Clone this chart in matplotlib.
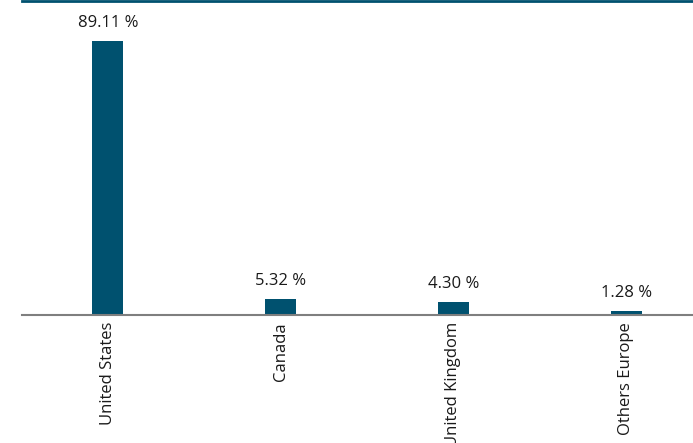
import matplotlib.pyplot as plt
import numpy as np

## Données

pays = ['United States', 'Canada', 'United Kingdom', 'Others Europe']
parts = [89.11, 5.32, 4.30, 1.28]
etiquettes = ['89.11 %', '5.32 %', '4.30 %', '1.28 %']

bleu = '#00516f'

## Figure

plt.rcParams['font.family'] = ['Open Sans', 'DejaVu Sans']

fig = plt.figure(figsize=(6.93, 4.43), dpi=100)
ax = fig.add_axes([22/693, 128/443, 671/693, 314/443])

x = np.arange(len(pays))
barres = ax.bar(x, parts, width=0.18, color=bleu)

for b, txt in zip(barres, etiquettes):
	ax.annotate(txt, (b.get_x() + b.get_width()/2, b.get_height()),
		xytext=(0, 7), textcoords='offset points',
		ha='center', va='bottom', fontsize=12, color='#1a1a1a')

ax.set_xlim(-0.497, 3.387)
ax.set_ylim(0, 102)
ax.set_xticks(x)
ax.set_xticklabels(pays, rotation=90, fontsize=12, color='#1a1a1a')
ax.tick_params(axis='x', length=0, pad=5)
ax.set_yticks([])

for s in ['left', 'right']:
	ax.spines[s].set_visible(False)
ax.spines['top'].set_color(bleu)
ax.spines['top'].set_linewidth(2)
ax.spines['bottom'].set_color('#7f7f7f')
ax.spines['bottom'].set_linewidth(1.5)

fig.savefig('out.png', dpi=100)
